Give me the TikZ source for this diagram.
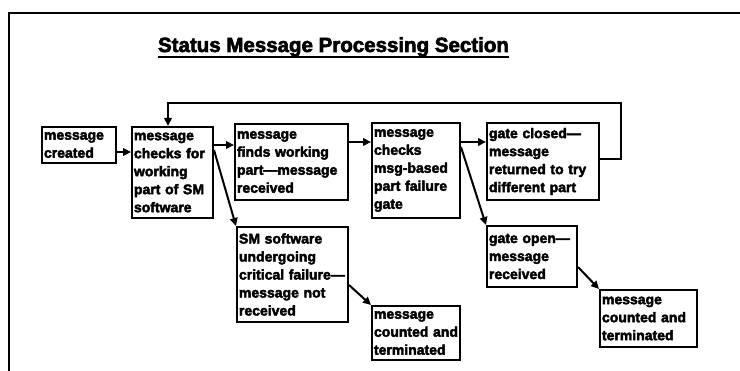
\documentclass[tikz,border=0pt]{standalone}
\usepackage{fontspec}
\setmainfont{Liberation Sans}
\newfontfamily\boxfont{Liberation Sans Bold}[FakeBold=3]
\usetikzlibrary{arrows.meta}

\tikzset{
  stepbox/.style={draw, line width=2pt, inner sep=2pt, align=left,
    font=\boxfont\fontsize{14}{18}\selectfont},
  link/.style={line width=2pt, -{Triangle[length=8pt,width=7.5pt]}},
  frameline/.style={line width=2.4pt},
}

\begin{document}
\begin{tikzpicture}[x=1pt,y=-1pt]
\useasboundingbox (0,0) rectangle (740,371);

% outer frame (top and left edges)
\draw[frameline] (740,13) -- (9,13) -- (9,371);

% heading
\node[inner sep=0pt, font=\boxfont\fontsize{20.5}{24}\selectfont, anchor=base]
  (title) at (333.5,52) {Status Message Processing Section};
\draw[line width=1.8pt] ([yshift=-5pt]title.base west) -- ([yshift=-5pt]title.base east);

% process steps
\node[stepbox, minimum width=74pt, minimum height=36pt, text width=70pt] (b1) at (79,145)
  {message\\created};
\node[stepbox, minimum width=81pt, minimum height=91pt, text width=77pt] (b2) at (172.5,172.5)
  {message\\checks for\\working\\part of SM\\software};
\node[stepbox, minimum width=113pt, minimum height=76pt, text width=109pt] (b3) at (291.5,162)
  {message\\finds working\\part—message\\received};
\node[stepbox, minimum width=88pt, minimum height=95pt, text width=84pt] (b4) at (416,170.5)
  {message\\checks\\msg-based\\part failure\\gate};
\node[stepbox, minimum width=112pt, minimum height=77pt, text width=108pt] (b5) at (543,161.5)
  {gate closed—\\message\\returned to try\\different part};
\node[stepbox, minimum width=111pt, minimum height=95pt, text width=107pt] (b6) at (292.5,274.5)
  {SM software\\undergoing\\critical failure—\\message not\\received};
\node[stepbox, minimum width=88pt, minimum height=54pt, text width=84pt] (b7) at (416,333)
  {message\\counted and\\terminated};
\node[stepbox, minimum width=90pt, minimum height=61pt, text width=86pt] (b8) at (532,256.5)
  {gate open—\\message\\received};
\node[stepbox, minimum width=97pt, minimum height=57pt, text width=93pt] (b9) at (648.5,318.5)
  {message\\counted and\\terminated};

% main flow
\draw[link] ([yshift=-7pt]b1.east) -- ([yshift=-7pt]b1.east -| b2.west);
\draw[link] ([yshift=17pt]b3.west -| b2.east) -- ([yshift=17pt]b3.west);
\draw[link] ([yshift=20pt]b3.east) -- ([yshift=20pt]b3.east -| b4.west);
\draw[link] ([yshift=28.5pt]b4.east) -- ([yshift=28.5pt]b4.east -| b5.west);

% branches
\draw[link] ([yshift=22.5pt]b2.east) -- (b6.north west);
\draw[link] ([yshift=23.5pt]b4.east) -- (b8.north west);
\draw[link] ([yshift=-10.5pt]b6.east) -- (b7.north west);
\draw[link] ([yshift=-10.5pt]b8.east) -- (b9.north west);

% retry loop back to the start
\coordinate (loopR) at (621,103);
\coordinate (loopL) at (168,103);
\draw[link] ([yshift=2.5pt]b5.east) -| (loopR) -- (loopL) -- (loopL |- b2.north);
\end{tikzpicture}
\end{document}
